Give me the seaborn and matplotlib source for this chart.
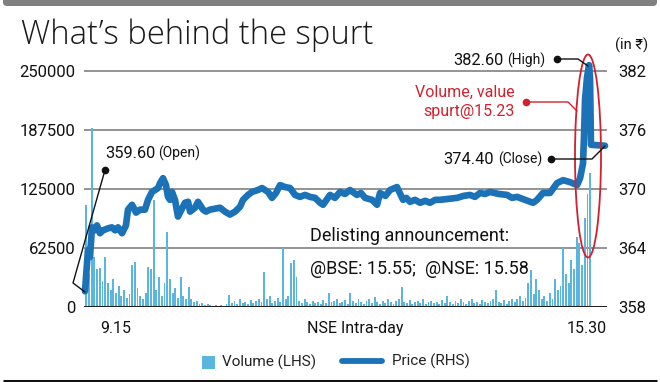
import numpy as np
import pandas as pd
import matplotlib
matplotlib.use("Agg")
import matplotlib.pyplot as plt
import seaborn as sns
from matplotlib.patches import Ellipse, FancyBboxPatch, Rectangle

# ---------------- data ----------------
# Volume in 2-minute bins from 9.15 (bin centre in minutes after 9.15)
volume = [
    108000, 35000, 190000, 53000, 40000, 41000, 28000, 53000, 25000, 18000,
    30000, 15000, 22000, 12000, 18000, 10000, 14000, 44000, 48000, 20000,
    12000, 9000, 15000, 42000, 40000, 113000, 18000, 32000, 12000, 25000,
    79000, 30000, 15000, 20000, 10000, 32000, 12000, 8000, 21000, 8000,
    5000, 6000, 3000, 4000, 2000, 3000, 2000, 1500, 2000, 1500,
    2000, 1500, 3000, 13000, 4000, 6000, 3000, 8000, 4000, 5000,
    3000, 7000, 4000, 6000, 9000, 5000, 37000, 8000, 12000, 4000,
    6000, 10000, 5000, 62500, 8000, 12000, 47000, 50000, 32000, 6000,
    4000, 8000, 5000, 3000, 6000, 4000, 5000, 3000, 7000, 4000,
    15000, 5000, 6000, 9000, 4000, 5000, 7000, 3000, 15000, 6000,
    4000, 8000, 5000, 3000, 6000, 9000, 4000, 11000, 5000, 3000,
    6000, 4000, 8000, 5000, 3000, 6000, 9000, 21000, 5000, 4000,
    7000, 3000, 5000, 6000, 4000, 8000, 3000, 5000, 6000, 4000,
    5000, 3000, 7000, 4000, 12000, 5000, 3000, 6000, 4000, 8000,
    5000, 3000, 6000, 9000, 4000, 5000, 3000, 7000, 5000, 4000,
    6000, 8000, 18000, 5000, 4000, 7000, 3000, 6000, 9000, 5000,
    8000, 12000, 6000, 10000, 25000, 39000, 14000, 30000, 18000, 8000,
    12000, 6000, 15000, 9000, 30000, 18000, 22000, 62500, 35000, 25000,
    50000, 40000, 74000, 68000, 45000, 94000, 120000, 142000,
]
volume_minute = [2 * i + 1 for i in range(len(volume))]

# Price (Rs) vs minutes after 9.15
price_minute = [
    0, 2.2, 3.7, 5.2, 7.4, 8.9, 11.1, 13.4, 17.1, 20, 22.3, 24.5, 27.5, 30.4,
    31.9, 34.9, 37.9, 40.8, 44.5, 46.8, 49.7, 52, 54.2, 55.7, 57.9, 60.1,
    61.6, 63.1, 64.6, 66.8, 69, 70.5, 74.2, 76.5, 78, 81.7, 83.9, 87.6, 89.8,
    92.8, 96.5, 100.2, 103.9, 107.6, 111.4, 115.1, 117.3, 121, 124, 128.4,
    131.4, 135.9, 138.8, 141.8, 144.8, 148.5, 152.2, 155.9, 159.6, 163.3,
    167, 170.8, 174.5, 176.7, 181.9, 185.5, 189.3, 193, 196.7, 201.9, 204.8,
    207.9, 213.1, 216.8, 219, 223, 226.4, 231.6, 236.1, 238.5, 241.3, 245,
    248.7, 252.5, 256.1, 260, 263.5, 270, 276.2, 281, 285.8, 289.5, 293.2,
    297, 300.7, 307, 313.3, 317, 320.7, 326.6, 332.6, 335.6, 340, 345.2,
    350.4, 354.9, 360.1, 365.3, 367.5, 369.7, 370.5, 371.2, 372.7, 374.2,
    374.9, 375.6, 386,
]
price = [
    359.6, 363.8, 363.1, 366.1, 365.8, 366.3, 365.5, 365.8, 366.0, 366.1,
    365.8, 366.1, 365.5, 366.3, 367.9, 368.4, 367.6, 367.9, 367.9, 368.9,
    369.7, 369.9, 370.1, 370.6, 371.1, 370.4, 369.2, 368.9, 369.7, 368.9,
    367.2, 367.6, 368.6, 368.7, 367.7, 368.1, 368.7, 367.9, 367.7, 367.9,
    368.0, 368.1, 367.7, 367.4, 367.7, 368.2, 368.9, 369.4, 369.7, 369.9,
    370.1, 369.7, 369.1, 369.6, 370.4, 370.2, 370.1, 369.4, 369.2, 369.4,
    369.2, 369.1, 368.6, 368.4, 369.4, 369.1, 369.7, 369.5, 369.9, 369.4,
    369.6, 369.1, 368.9, 368.4, 369.6, 369.3, 369.9, 370.2, 368.9, 369.1,
    368.7, 368.9, 368.6, 368.8, 368.6, 368.9, 368.9, 369.0, 369.1, 369.3,
    369.4, 369.2, 369.6, 369.5, 369.7, 369.5, 369.4, 369.1, 369.2, 368.9,
    368.6, 368.9, 369.6, 369.6, 370.6, 370.9, 370.7, 370.4, 371.1, 372.6,
    375.7, 379.1, 381.4, 382.6, 381.3, 374.5, 374.4,
]

left_ticks = [0, 62500, 125000, 187500, 250000]
left_labels = ["0", "62500", "125000", "187500", "250000"]
right_ticks = [358, 364, 370, 376, 382]
right_labels = ["358", "364", "370", "376", "382"]

vol_df = pd.DataFrame({"minute": volume_minute, "volume": volume})
price_df = pd.DataFrame({"minute": price_minute, "price": price})

# ---------------- style ----------------
sns.set_theme(style="white")
plt.rcParams["font.family"] = ["Roboto", "DejaVu Sans"]

BAR = "#5ab6df"
LINE = "#1b72b7"
RED = "#d3202f"
GRID = "#8a8a8a"

W, H = 660, 382
fig = plt.figure(figsize=(W / 100, H / 100), dpi=100)
fig.patch.set_facecolor("white")

ax_left, ax_right_px, ax_bottom_px, ax_top_px = 84, 607, 307, 61.6
ax = fig.add_axes([ax_left / W, 1 - ax_bottom_px / H,
                   (ax_right_px - ax_left) / W, (ax_bottom_px - ax_top_px) / H])
XMIN, XMAX = -0.75, 387.5
YTOP = 260000

sns.barplot(data=vol_df, x="minute", y="volume", native_scale=True,
            color=BAR, width=0.7, errorbar=None, ax=ax, zorder=2,
            saturation=1, linewidth=0)
ax.set_xlim(XMIN, XMAX)
ax.set_ylim(0, YTOP)
ax.set_yticks(left_ticks)
ax.set_yticklabels(left_labels, fontsize=12, color="#111111")
ax.set_xticks([])
ax.set_xlabel("")
ax.set_ylabel("")
for y in left_ticks[1:]:
    ax.axhline(y, color=GRID, lw=1.3, zorder=1)
ax.axhline(0, color="#222222", lw=2.2, zorder=3)
for s in ax.spines.values():
    s.set_visible(False)
ax.tick_params(axis="y", length=0, pad=6)
ax.set_facecolor("none")

ax2 = ax.twinx()
sns.lineplot(data=price_df, x="minute", y="price", ax=ax2, color=LINE,
             lw=4.8, sort=False, estimator=None, zorder=4,
             solid_capstyle="round", solid_joinstyle="round")
ax2.set_ylim(358, 358 + 24 * YTOP / 250000)
ax2.set_xlim(XMIN, XMAX)
ax2.set_yticks(right_ticks)
ax2.set_yticklabels(right_labels, fontsize=12, color="#111111")
ax2.set_ylabel("")
ax2.set_xlabel("")
ax2.tick_params(axis="y", length=0, pad=8)
for s in ax2.spines.values():
    s.set_visible(False)
ax2.grid(False)
for line in ax2.lines:
    line.set_clip_on(False)

# ---------------- overlay (pixel coordinates) ----------------
ov = fig.add_axes([0, 0, 1, 1], zorder=10)
ov.set_xlim(0, W)
ov.set_ylim(H, 0)
ov.axis("off")
ov.patch.set_visible(False)

# top grey band and bottom rule
ov.add_patch(FancyBboxPatch((3, -4), W - 6, 10, boxstyle="round,pad=0,rounding_size=4",
                            facecolor="#808080", edgecolor="none"))
ov.plot([3, 657], [381, 381], color="#111111", lw=2.2, solid_capstyle="butt")

# title
ov.text(21, 44, "What\u2019s behind the spurt", fontsize=23.6,
        family=["Open Sans", "DejaVu Sans"], fontweight="light",
        color="#1a1a1a", va="baseline", ha="left")

ov.text(632, 50, "(in \u20b9)", fontsize=10.5, family=["Roboto", "DejaVu Sans"],
        color="#111111", ha="center", va="baseline")

NUM = 11.8
PAR = 10
# Open annotation
ov.plot([105, 73, 85], [170, 283, 292], color="#111111", lw=1)
ov.plot([105], [170], "o", color="#111111", ms=4.5)
ov.text(155, 158, "359.60", fontsize=NUM, color="#111111", va="baseline", ha="right")
ov.text(158, 158, "(Open)", fontsize=PAR, color="#111111", va="baseline", ha="left")

# High annotation
ov.plot([557, 578, 588], [59, 59, 66], color="#111111", lw=1)
ov.plot([557], [59], "o", color="#111111", ms=4.5)
ov.text(503, 65, "382.60", fontsize=NUM, color="#111111", va="baseline", ha="right")
ov.text(507, 65, "(High)", fontsize=PAR, color="#111111", va="baseline", ha="left")

# Close annotation
ov.plot([551, 592, 605], [159, 159, 146], color="#111111", lw=1)
ov.plot([551], [159], "o", color="#111111", ms=4.5)
ov.text(494, 164, "374.40", fontsize=NUM, color="#111111", va="baseline", ha="right")
ov.text(498, 164, "(Close)", fontsize=PAR, color="#111111", va="baseline", ha="left")

# Red spurt annotation
ov.add_patch(Ellipse((588, 156), 26, 203, facecolor="none", edgecolor=RED, lw=1.3))
ov.plot([526, 568, 577], [102, 102, 111], color=RED, lw=1)
ov.plot([526], [102], "o", color=RED, ms=4.5)
ov.text(515, 97, "Volume, value", fontsize=11.5, color=RED, ha="right", va="baseline")
ov.text(515, 116, "spurt@15.23", fontsize=11.5, color=RED, ha="right", va="baseline")

# Delisting text
ov.text(310, 241, "Delisting announcement:", fontsize=13, color="#111111",
        ha="left", va="baseline")
ov.text(310, 274, "@BSE: 15.55;  @NSE: 15.58", fontsize=13, color="#111111",
        ha="left", va="baseline")

# x labels
ov.text(116, 333, "9.15", fontsize=11.5, color="#111111", ha="center", va="baseline")
ov.text(587, 333, "15.30", fontsize=11.5, color="#111111", ha="center", va="baseline")
ov.text(355, 333, "NSE Intra-day", fontsize=11.5, color="#111111", ha="center", va="baseline")

# legend
ov.add_patch(Rectangle((202, 356), 13, 13, facecolor=BAR, edgecolor="none"))
ov.text(222, 367, "Volume (LHS)", fontsize=11, color="#222222", ha="left", va="baseline")
ov.plot([342, 382], [361, 361], color=LINE, lw=4.2, solid_capstyle="round")
ov.text(392, 366, "Price (RHS)", fontsize=11, color="#222222", ha="left", va="baseline")

fig.savefig("out.png", dpi=100, facecolor="white")
